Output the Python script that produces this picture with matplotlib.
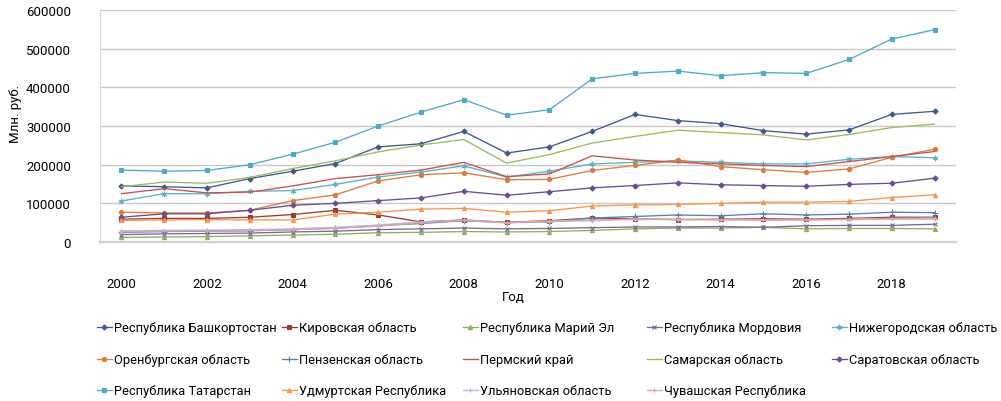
import matplotlib
matplotlib.use("Agg")
import matplotlib.pyplot as plt

plt.rcParams['font.family'] = ['Roboto', 'DejaVu Sans']

years = list(range(2000, 2020))
tick_years = list(range(2000, 2019, 2))
yticks = [0, 100000, 200000, 300000, 400000, 500000, 600000]

bashkortostan = [145000, 143000, 140000, 164000, 183000, 203000, 246000, 254000, 286000, 230000,
                 246000, 286000, 330000, 314000, 306000, 288000, 279000, 290000, 330000, 338000]
kirov = [59000, 61000, 61000, 64000, 71000, 82000, 70000, 52000, 57000, 51000,
         55000, 62000, 60000, 58000, 59000, 60000, 59000, 61000, 64000, 64000]
mari_el = [12000, 13000, 14000, 16000, 18000, 20000, 24000, 25000, 27000, 26000,
           27000, 30000, 34000, 36000, 36000, 38000, 34000, 35000, 35000, 34000]
mordovia = [19000, 21000, 22000, 23000, 26000, 28000, 32000, 34000, 36000, 34000,
            35000, 37000, 39000, 39000, 40000, 38000, 42000, 43000, 43000, 46000]
nizhny = [106000, 125000, 125000, 131000, 133000, 149000, 168000, 181000, 197000, 168000,
          183000, 202000, 206000, 210000, 206000, 202000, 202000, 214000, 221000, 218000]
orenburg = [77000, 75000, 75000, 82000, 107000, 122000, 158000, 174000, 179000, 161000,
            162000, 185000, 198000, 212000, 195000, 187000, 180000, 189000, 219000, 240000]
penza = [25000, 27000, 28000, 29000, 32000, 36000, 42000, 48000, 55000, 50000,
         52000, 62000, 66000, 70000, 68000, 73000, 70000, 72000, 77000, 76000]
perm = [125000, 138000, 127000, 129000, 145000, 164000, 174000, 186000, 206000, 169000,
        176000, 223000, 212000, 206000, 202000, 198000, 195000, 208000, 221000, 234000]
samara = [143000, 155000, 152000, 167000, 190000, 210000, 233000, 251000, 265000, 204000,
          226000, 256000, 273000, 289000, 283000, 277000, 264000, 278000, 296000, 305000]
saratov = [64000, 73000, 73000, 82000, 95000, 100000, 107000, 114000, 131000, 121000,
           130000, 140000, 146000, 153000, 148000, 146000, 144000, 149000, 152000, 165000]
tatarstan = [186000, 183000, 185000, 200000, 227000, 258000, 300000, 336000, 368000, 328000,
             342000, 422000, 436000, 442000, 430000, 438000, 436000, 472000, 525000, 549000]
udmurtia = [56000, 57000, 58000, 57000, 57000, 72000, 77000, 85000, 87000, 77000,
            81000, 93000, 96000, 97000, 100000, 103000, 103000, 105000, 115000, 122000]
ulyanovsk = [29000, 30000, 31000, 32000, 34000, 38000, 44000, 52000, 57000, 50000,
             53000, 55000, 60000, 57000, 58000, 56000, 57000, 58000, 59000, 59000]
chuvashia = [27000, 28000, 29000, 30000, 32000, 35000, 41000, 50000, 56000, 50000,
             54000, 57000, 58000, 59000, 57000, 58000, 57000, 59000, 61000, 62000]

labels = ["Республика Башкортостан", "Кировская область", "Республика Марий Эл",
          "Республика Мордовия", "Нижегородская область", "Оренбургская область",
          "Пензенская область", "Пермский край", "Самарская область", "Саратовская область",
          "Республика Татарстан", "Удмуртская Республика", "Ульяновская область",
          "Чувашская Республика"]
series = [bashkortostan, kirov, mari_el, mordovia, nizhny, orenburg, penza, perm, samara,
          saratov, tatarstan, udmurtia, ulyanovsk, chuvashia]
colors = ['#3C5B8E', '#9E3A37', '#8DB255', '#7A67A0', '#55B4CC', '#E07B39', '#4F81BD',
          '#C9504D', '#9BBB59', '#6A4C93', '#4BACC6', '#F79646', '#AEBBE0', '#E4A1A1']
markers = ['D', 's', '^', 'x', (6, 2, 0), 'o', '+', None, None, 'D', 's', '^', '+', '+']
msizes = [2.6, 3, 3, 3, 4, 3, 4, 0, 0, 2.6, 3.3, 3, 3.5, 3.5]

W, H = 1001, 402
fig = plt.figure(figsize=(W / 100, H / 100), dpi=100)
ax = fig.add_axes([100 / W, 1 - 243 / H, (956 - 100) / W, (243 - 11) / H])

handles = []
for s, c, m, ms, lab in zip(series, colors, markers, msizes, labels):
    h, = ax.plot(years, s, color=c, marker=m, markersize=ms, linewidth=0.95,
                 markeredgewidth=0.8, label=lab, zorder=3)
    handles.append(h)

ax.set_xlim(1999.5, 2019.5)
ax.set_ylim(0, 600000)
ax.set_yticks(yticks)
ax.set_yticklabels([str(v) for v in yticks], fontsize=9.5)
ax.set_xticks(tick_years)
ax.set_xticklabels([str(y) for y in tick_years], fontsize=9.5)
ax.tick_params(axis='both', length=0)
ax.tick_params(axis='y', pad=21)
ax.tick_params(axis='x', pad=25)
ax.grid(axis='y', color='#C8C8C8', linewidth=1.0, zorder=0)
ax.set_axisbelow(True)
for side in ['top', 'right']:
    ax.spines[side].set_visible(False)
ax.spines['left'].set_color('#D9D9D9')
ax.spines['left'].set_linewidth(0.8)
ax.spines['bottom'].set_color('#D0D0D0')
ax.spines['bottom'].set_linewidth(1.6)

fig.text(15 / W, 1 - 114 / H, "Млн. руб.", rotation=90, ha='center', va='center', fontsize=9.5)
fig.text(513 / W, 1 - 298 / H, "Год", ha='center', va='center', fontsize=9.5)

col_x = [97, 282, 463, 647, 832]
row_y = [329, 361, 392]
for i, (h, lab) in enumerate(zip(handles, labels)):
    r, c = divmod(i, 5)
    fig.legend([h], [lab], loc='center left',
               bbox_to_anchor=(col_x[c] / W, 1 - row_y[r] / H),
               frameon=False, borderpad=0, borderaxespad=0, handlelength=1.15,
               handletextpad=0.2, fontsize=9.3, numpoints=1)

fig.savefig("out.png", dpi=100)
